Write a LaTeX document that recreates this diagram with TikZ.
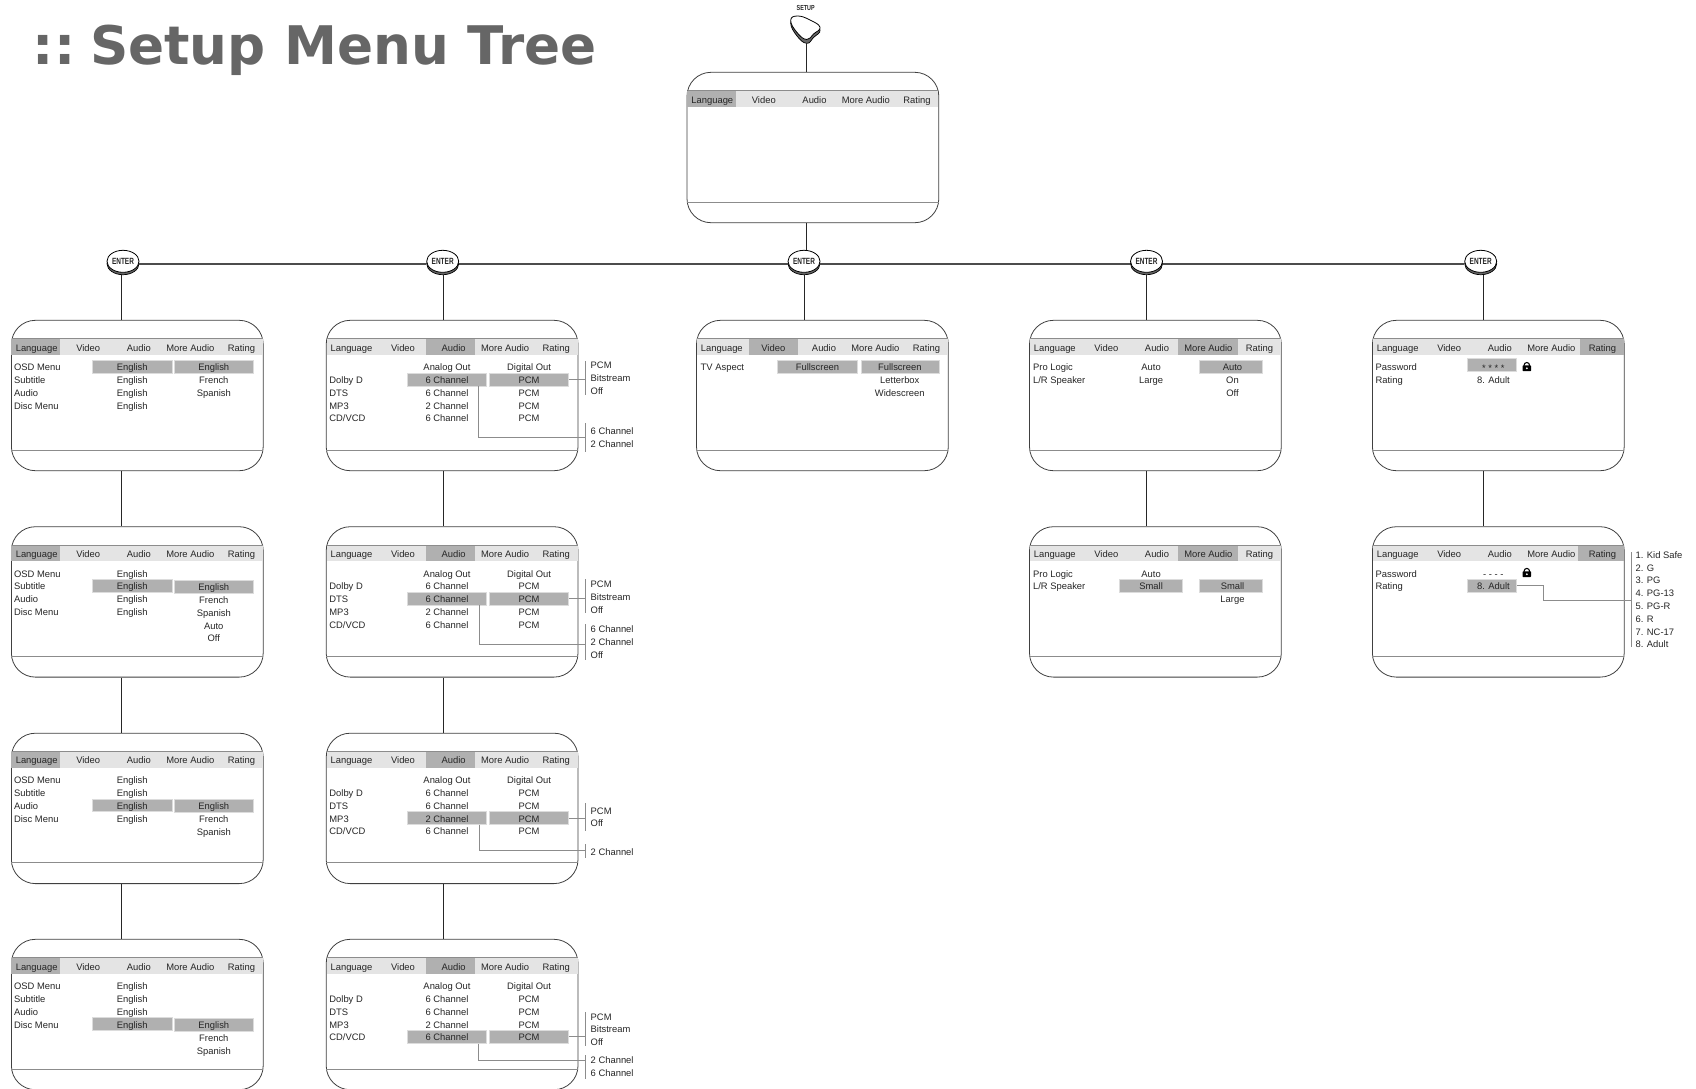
\documentclass[tikz,border=0pt]{standalone}
\usepackage{fontspec}
\setmainfont{Liberation Sans}
\newfontfamily\titlefont{DejaVu Sans}
\usetikzlibrary{shapes.geometric}
\definecolor{barfill}{HTML}{E4E4E4}
\definecolor{hifill}{HTML}{B0B0B0}
\definecolor{hiedge}{HTML}{DCDCDC}
\definecolor{ruleline}{HTML}{8C8C8C}
\definecolor{inktext}{HTML}{262626}
\tikzset{
    panel/.style={draw=black!75,fill=white,line width=.8pt,rounded corners=24pt,inner sep=0pt,minimum width=251.8pt,minimum height=150.4pt},
    tabtext/.style={inner sep=0pt,text=inktext,font=\fontsize{9.4}{11}\selectfont,text height=8pt,text depth=0pt},
    lefttext/.style={tabtext,anchor=west},
    hibox/.style={draw=hiedge,fill=hifill,line width=.6pt,inner sep=0pt,minimum height=12.7pt},
    brk/.style={fill=ruleline,inner sep=0pt,minimum width=.9pt},
    callout/.style={draw=ruleline,line width=.9pt},
    tree/.style={draw=black!85,line width=1.1pt},
    enterline/.style={draw=black!70,line width=1.7pt},
    entershadow/.style={ellipse,draw=black,fill=black!60,line width=.7pt,inner sep=0pt,minimum width=32pt,minimum height=22pt},
    entertop/.style={ellipse,draw=black,fill=white,line width=.8pt,inner sep=0pt,minimum width=32pt,minimum height=22pt,font=\fontsize{9}{9}\selectfont\bfseries,text=inktext}
}
\newcommand{\menubox}[3]{
    \node [panel] (#1) at (125.9,75.2) {};
    \fill [barfill] (.5,18.4) rectangle (251.3,34.4);
    \fill [hifill] (#2,18.4) rectangle (#3,34.4);
    \draw [ruleline,line width=1pt] (.5,18.4) -- (251.3,18.4);
    \draw [ruleline,line width=1pt] (0,129.7) -- (251.8,129.7);
    \foreach \txt/\tabx [count=\i] in {Language/25.3,Video/76.8,Audio/127.5,More Audio/178.9,Rating/230}
        \node [tabtext] (#1t\i) at (\tabx,26.7) {\txt};
}
\newcommand{\coltext}[5]{
    \foreach \txt [count=\i from 0] in {#5}
        \node [#2] (#1\i) at (#3,{46.4+12.8*(#4+\i)}) {\txt};
}
\newcommand{\hirow}[4]{
    \node [hibox,minimum width=#3pt] (#1) at (#2,{46.4+12.8*#4}) {};
}
\newcommand{\brkbar}[4]{
    \node [brk,minimum height=#4pt] (#1) at (#2,#3) {};
}
\newcommand{\enterbtn}[2]{
    \node [entershadow] (#1) at (#2,263.7) {};
    \node [entertop] (#1top) at (#2,261.3) {\scalebox{.72}[1]{ENTER}};
}
\newcommand{\padlock}[3]{
    \draw [black,line width=1.1pt] (#2-2.7,#3-.5) -- (#2-2.7,#3-1.6) arc (180:360:2.7) -- (#2+2.7,#3-.5);
    \node [fill=black,rounded corners=.8pt,inner sep=0pt,minimum width=8.6pt,minimum height=5.8pt] (#1) at (#2,#3+1.5) {};
    \fill [white] (#2,#3+1.5) circle (1);
}
\begin{document}
\begin{tikzpicture}[x=1pt,y=-1pt]
    \useasboundingbox (0,0) rectangle (1696,1088);
    \node [anchor=base west,inner sep=0pt,text=black!60,font=\titlefont\fontsize{53.2}{60}\selectfont\bfseries] (heading) at (32.6,64) {:: \hspace{-10pt}Setup Menu Tree};

    \coordinate (setupb) at (806.8,43);
    \node [inner sep=0pt,text=inktext,font=\fontsize{7.3}{8}\selectfont\bfseries] (setuplabel) at (805.7,8.3) {\scalebox{.74}[1]{SETUP}};
    \fill [black!60,draw=black,line width=.7pt] plot [smooth cycle,tension=.8] coordinates {(790.7,23) (797.5,19) (810,23) (820,30) (813.5,37.5) (806.7,43.3) (797,36)};
    \filldraw [fill=white,draw=black,line width=.8pt] plot [smooth cycle,tension=.8] coordinates {(790.7,20.5) (797.5,16) (810,20) (820,27.3) (813.5,34) (806.7,39.5) (797,32.5)};

    \begin{scope}[shift={(687,72.3)}]
        \menubox{topmenu}{0}{48.8}
    \end{scope}

    \enterbtn{enter1}{123}
    \enterbtn{enter2}{442.7}
    \enterbtn{enter3}{804}
    \enterbtn{enter4}{1146.5}
    \enterbtn{enter5}{1480.7}

    \begin{scope}[shift={(11.4,320.3)}]
        \menubox{lan1}{0}{48.8}
        \hirow{lan1a}{120.8}{79.2}{0}
        \hirow{lan1b}{202.4}{78.8}{0}
        \coltext{lan1l}{lefttext}{2.5}{0}{OSD Menu,Subtitle,Audio,Disc Menu}
        \coltext{lan1m}{tabtext}{120.8}{0}{English,English,English,English}
        \coltext{lan1r}{tabtext}{202.4}{0}{English,French,Spanish}
    \end{scope}
    \begin{scope}[shift={(11.4,526.7)}]
        \menubox{lan2}{0}{48.8}
        \hirow{lan2a}{120.8}{79.2}{1}
        \hirow{lan2b}{202.4}{78.8}{1.06}
        \coltext{lan2l}{lefttext}{2.5}{0}{OSD Menu,Subtitle,Audio,Disc Menu}
        \coltext{lan2m}{tabtext}{120.8}{0}{English,English,English,English}
        \coltext{lan2r}{tabtext}{202.4}{1.06}{English,French,Spanish,Auto,Off}
    \end{scope}
    \begin{scope}[shift={(11.4,733.2)}]
        \menubox{lan3}{0}{48.8}
        \hirow{lan3a}{120.8}{79.2}{2}
        \hirow{lan3b}{202.4}{78.8}{2.04}
        \coltext{lan3l}{lefttext}{2.5}{0}{OSD Menu,Subtitle,Audio,Disc Menu}
        \coltext{lan3m}{tabtext}{120.8}{0}{English,English,English,English}
        \coltext{lan3r}{tabtext}{202.4}{2.04}{English,French,Spanish}
    \end{scope}
    \begin{scope}[shift={(11.4,939.3)}]
        \menubox{lan4}{0}{48.8}
        \hirow{lan4a}{120.8}{79.2}{3}
        \hirow{lan4b}{202.4}{78.8}{3.04}
        \coltext{lan4l}{lefttext}{2.5}{0}{OSD Menu,Subtitle,Audio,Disc Menu}
        \coltext{lan4m}{tabtext}{120.8}{0}{English,English,English,English}
        \coltext{lan4r}{tabtext}{202.4}{3.04}{English,French,Spanish}
    \end{scope}

    \begin{scope}[shift={(326.2,320.3)}]
        \menubox{aud1}{100}{148.9}
        \hirow{aud1a}{120.8}{79.2}{1}
        \hirow{aud1b}{202.9}{78.8}{1}
        \coltext{aud1l}{lefttext}{3}{1}{Dolby D,DTS,MP3,CD/VCD}
        \coltext{aud1m}{tabtext}{120.8}{0}{Analog Out,6 Channel,6 Channel,2 Channel,6 Channel}
        \coltext{aud1r}{tabtext}{202.9}{0}{Digital Out,PCM,PCM,PCM,PCM}
        \brkbar{aud1p}{259.7}{57.4}{34}
        \brkbar{aud1q}{259.7}{117.4}{28.7}
        \coltext{aud1s}{lefttext}{264.3}{-.16}{PCM,Bitstream,Off}
        \coltext{aud1t}{lefttext}{264.3}{5.02}{6 Channel,2 Channel}
        \draw [callout] (aud1b.east) -- (aud1b.east -| aud1p.west);
        \draw [callout] ([xshift=31pt]aud1a.south) |- (aud1q.west);
    \end{scope}
    \begin{scope}[shift={(326.2,526.7)}]
        \menubox{aud2}{100}{148.9}
        \hirow{aud2a}{120.8}{79.2}{2}
        \hirow{aud2b}{202.9}{78.8}{2}
        \coltext{aud2l}{lefttext}{3}{1}{Dolby D,DTS,MP3,CD/VCD}
        \coltext{aud2m}{tabtext}{120.8}{0}{Analog Out,6 Channel,6 Channel,2 Channel,6 Channel}
        \coltext{aud2r}{tabtext}{202.9}{0}{Digital Out,PCM,PCM,PCM,PCM}
        \brkbar{aud2p}{259.7}{69.6}{34}
        \brkbar{aud2q}{259.7}{115.3}{36}
        \coltext{aud2s}{lefttext}{264.3}{.83}{PCM,Bitstream,Off}
        \coltext{aud2t}{lefttext}{264.3}{4.34}{6 Channel,2 Channel,Off}
        \draw [callout] (aud2b.east) -- (aud2b.east -| aud2p.west);
        \draw [callout] ([xshift=32pt]aud2a.south) |- ([yshift=-2pt]aud2q.west);
    \end{scope}
    \begin{scope}[shift={(326.2,733.2)}]
        \menubox{aud3}{100}{148.9}
        \hirow{aud3a}{120.8}{79.2}{3}
        \hirow{aud3b}{202.9}{78.8}{3}
        \coltext{aud3l}{lefttext}{3}{1}{Dolby D,DTS,MP3,CD/VCD}
        \coltext{aud3m}{tabtext}{120.8}{0}{Analog Out,6 Channel,6 Channel,2 Channel,6 Channel}
        \coltext{aud3r}{tabtext}{202.9}{0}{Digital Out,PCM,PCM,PCM,PCM}
        \brkbar{aud3p}{259.7}{83.4}{28.2}
        \brkbar{aud3q}{259.7}{117.4}{14}
        \coltext{aud3s}{lefttext}{264.3}{2.375}{PCM,Off}
        \coltext{aud3t}{lefttext}{264.3}{5.58}{2 Channel}
        \draw [callout] (aud3b.east) -- (aud3b.east -| aud3p.west);
        \draw [callout] ([xshift=32pt]aud3a.south) |- (aud3q.west);
    \end{scope}
    \begin{scope}[shift={(326.2,939.3)}]
        \menubox{aud4}{100}{148.9}
        \hirow{aud4a}{120.8}{79.2}{4}
        \hirow{aud4b}{202.9}{78.8}{4}
        \coltext{aud4l}{lefttext}{3}{1}{Dolby D,DTS,MP3,CD/VCD}
        \coltext{aud4m}{tabtext}{120.8}{0}{Analog Out,6 Channel,6 Channel,2 Channel,6 Channel}
        \coltext{aud4r}{tabtext}{202.9}{0}{Digital Out,PCM,PCM,PCM,PCM}
        \brkbar{aud4p}{259.7}{89.4}{34}
        \brkbar{aud4q}{259.7}{127.7}{24}
        \coltext{aud4s}{lefttext}{264.3}{2.37}{PCM,Bitstream,Off}
        \coltext{aud4t}{lefttext}{264.3}{5.8}{2 Channel,6 Channel}
        \draw [callout] (aud4b.east) -- (aud4b.east -| aud4p.west);
        \draw [callout] ([xshift=31pt]aud4a.south) |- ([yshift=7pt]aud4q.west);
    \end{scope}

    \begin{scope}[shift={(696.5,320.3)}]
        \menubox{vid1}{52}{101.6}
        \hirow{vid1a}{121}{80}{0}
        \hirow{vid1b}{203.3}{78}{0}
        \coltext{vid1l}{lefttext}{4}{0}{TV Aspect}
        \coltext{vid1m}{tabtext}{121}{0}{Fullscreen}
        \coltext{vid1r}{tabtext}{203.3}{0}{Fullscreen,Letterbox,Widescreen}
    \end{scope}

    \begin{scope}[shift={(1029.5,320.3)}]
        \menubox{mor1}{148.7}{208.2}
        \hirow{mor1b}{201}{63.4}{0}
        \coltext{mor1l}{lefttext}{3.4}{0}{Pro Logic,L/R Speaker}
        \coltext{mor1m}{tabtext}{121.6}{0}{Auto,Large}
        \coltext{mor1r}{tabtext}{203}{0}{Auto,On,Off}
    \end{scope}
    \begin{scope}[shift={(1029.5,526.7)}]
        \menubox{mor2}{148.7}{208.2}
        \hirow{mor2a}{121.2}{62.9}{1}
        \hirow{mor2b}{201}{63.4}{1}
        \coltext{mor2l}{lefttext}{3.4}{0}{Pro Logic,L/R Speaker}
        \coltext{mor2m}{tabtext}{121.6}{0}{Auto,Small}
        \coltext{mor2r}{tabtext}{203}{1}{Small,Large}
    \end{scope}

    \begin{scope}[shift={(1372.4,320.3)}]
        \menubox{rat1}{207.8}{251.3}
        \hirow{rat1a}{119.8}{49.1}{-.16}
        \coltext{rat1l}{lefttext}{3}{0}{Password,Rating}
        \coltext{rat1s}{tabtext}{121}{.05}{* * * *}
        \coltext{rat1m}{tabtext}{121}{1}{8. Adult}
        \padlock{rat1k}{154.4}{46.5}
    \end{scope}
    \begin{scope}[shift={(1372.4,526.7)}]
        \menubox{rat2}{206}{251.3}
        \hirow{rat2a}{119.8}{49.1}{1}
        \coltext{rat2l}{lefttext}{3}{0}{Password,Rating}
        \coltext{rat2s}{tabtext}{121}{0}{- - - -}
        \coltext{rat2m}{tabtext}{121}{1}{8. Adult}
        \padlock{rat2k}{154.4}{46}
        \brkbar{rat2p}{258.8}{72.8}{95.6}
        \coltext{rat2t}{lefttext}{263}{-1.47}{1. Kid Safe,2. G,3. PG,4. PG-13,5. PG-R,6. R,7. NC-17,8. Adult}
        \draw [callout] (rat2a.east) -- ++(26.6,0) |- ([yshift=-1pt]rat2p.west);
    \end{scope}

    \coordinate (col1) at (121.6,0);
    \coordinate (col2) at (443.6,0);
    \coordinate (col3) at (804.7,0);
    \coordinate (col4) at (1146.7,0);
    \coordinate (col5) at (1483.4,0);
    \draw [tree] (setupb) -- (setupb |- topmenu.north);
    \draw [tree] (setupb |- topmenu.south) -- (setupb |- enter3top.north);
    \draw [enterline] (enter1) -- (enter2);
    \draw [enterline] (enter2) -- (enter3);
    \draw [enterline] (enter3) -- (enter4);
    \draw [enterline] (enter4) -- (enter5);
    \foreach \c/\e/\p in {col1/enter1/lan1,col2/enter2/aud1,col3/enter3/vid1,col4/enter4/mor1,col5/enter5/rat1}
        \draw [tree] (\c |- \e.south) -- (\c |- \p.north);
    \foreach \c/\a/\b in {col1/lan1/lan2,col1/lan2/lan3,col1/lan3/lan4,col2/aud1/aud2,col2/aud2/aud3,col2/aud3/aud4,col4/mor1/mor2,col5/rat1/rat2}
        \draw [tree] (\c |- \a.south) -- (\c |- \b.north);
\end{tikzpicture}
\end{document}
